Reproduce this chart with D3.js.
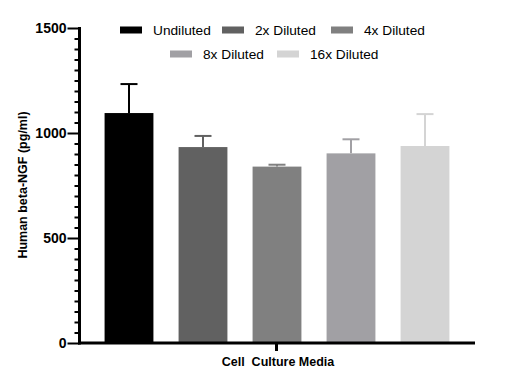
<!DOCTYPE html>
<meta charset="utf-8">
<script src="https://d3js.org/d3.v7.min.js"></script>
<style>
  body { margin: 0; background: #fff; }
  text { font-family: "Liberation Sans", Arial, sans-serif; }
</style>
<div id="chart"></div>
<script>
    // Data
    const groups = ["Undiluted", "2x Diluted", "4x Diluted", "8x Diluted", "16x Diluted"];
    const means = [1095, 933, 840, 903, 938];
    const errUpper = [1233, 986, 849, 970, 1090];
    const colors = ["#000000", "#616161", "#808080", "#a1a0a4", "#d4d4d4"];
    const majorTicks = [0, 500, 1000, 1500];

    const width = 520, height = 389;
    const svg = d3.select("#chart").append("svg")
                .attr("width", width)
                .attr("height", height);

    // Scales
    const y = d3.scaleLinear().domain([0, 1500]).range([343, 28]);
    const x = d3.scaleBand().domain(groups).range([92, 462]).paddingInner(0.34).paddingOuter(0.17);

    // Bars
    svg.append("g").selectAll("rect")
        .data(groups)
        .join("rect")
            .attr("x", d => x(d))
            .attr("y", (d, i) => y(means[i]))
            .attr("width", x.bandwidth())
            .attr("height", (d, i) => y(0) - y(means[i]))
            .attr("fill", (d, i) => colors[i]);

    // Error bars (upper only)
    const err = svg.append("g");
    groups.forEach(function(g, i) {
        const cx = x(g) + x.bandwidth() / 2;
        err.append("line")
            .attr("x1", cx).attr("x2", cx)
            .attr("y1", y(means[i])).attr("y2", y(errUpper[i]))
            .attr("stroke", colors[i]).attr("stroke-width", 2);
        err.append("line")
            .attr("x1", cx - 8.5).attr("x2", cx + 8.5)
            .attr("y1", y(errUpper[i])).attr("y2", y(errUpper[i]))
            .attr("stroke", colors[i]).attr("stroke-width", 2);
    });

    // Y axis with minor ticks
    const yAxis = svg.append("g").attr("transform", "translate(79.5,0)");
    yAxis.call(d3.axisLeft(y).tickValues(d3.range(0, 1501, 50)).tickSize(5).tickFormat(""))
        .call(g => g.select(".domain").remove())
        .selectAll("line").attr("stroke", "#000").attr("stroke-width", 2);
    yAxis.selectAll(".tick")
        .filter(d => majorTicks.includes(d))
        .select("line").attr("x2", -12);
    yAxis.selectAll(".tick")
        .filter(d => majorTicks.includes(d))
        .append("text")
            .attr("x", -13)
            .attr("dy", "0.35em")
            .attr("text-anchor", "end")
            .attr("fill", "#000")
            .style("font-size", "14px")
            .style("font-weight", "bold")
            .text(d => d);
    yAxis.append("line")
        .attr("x1", 0).attr("x2", 0)
        .attr("y1", y(0) + 1.5).attr("y2", y(1500) - 1)
        .attr("stroke", "#000").attr("stroke-width", 3);

    // X axis
    svg.append("line")
        .attr("x1", 78).attr("x2", 475)
        .attr("y1", y(0)).attr("y2", y(0))
        .attr("stroke", "#000").attr("stroke-width", 3);
    svg.append("line")
        .attr("x1", 276.5).attr("x2", 276.5)
        .attr("y1", y(0)).attr("y2", y(0) + 8)
        .attr("stroke", "#000").attr("stroke-width", 3);
    svg.append("text")
        .attr("x", 278).attr("y", 366)
        .attr("text-anchor", "middle")
        .style("font-size", "12.5px")
        .style("font-weight", "bold")
        .style("white-space", "pre")
        .text("Cell  Culture Media");

    // Y title
    svg.append("text")
        .attr("transform", "translate(27,185) rotate(-90)")
        .attr("text-anchor", "middle")
        .style("font-size", "12.5px")
        .style("font-weight", "bold")
        .text("Human beta-NGF (pg/ml)");

    // Legend
    const legendPos = [[120, 30], [222, 30], [331, 30], [170, 54], [277, 54]];
    const legend = svg.append("g").selectAll("g")
        .data(groups)
        .join("g")
            .attr("transform", (d, i) => `translate(${legendPos[i][0]},${legendPos[i][1]})`);
    legend.append("rect")
        .attr("x", 0).attr("y", -3.5)
        .attr("width", 22).attr("height", 7)
        .attr("fill", (d, i) => colors[i]);
    legend.append("text")
        .attr("x", 33).attr("dy", "0.35em")
        .style("font-size", "13.7px")
        .attr("fill", "#000")
        .text(d => d);
</script>
